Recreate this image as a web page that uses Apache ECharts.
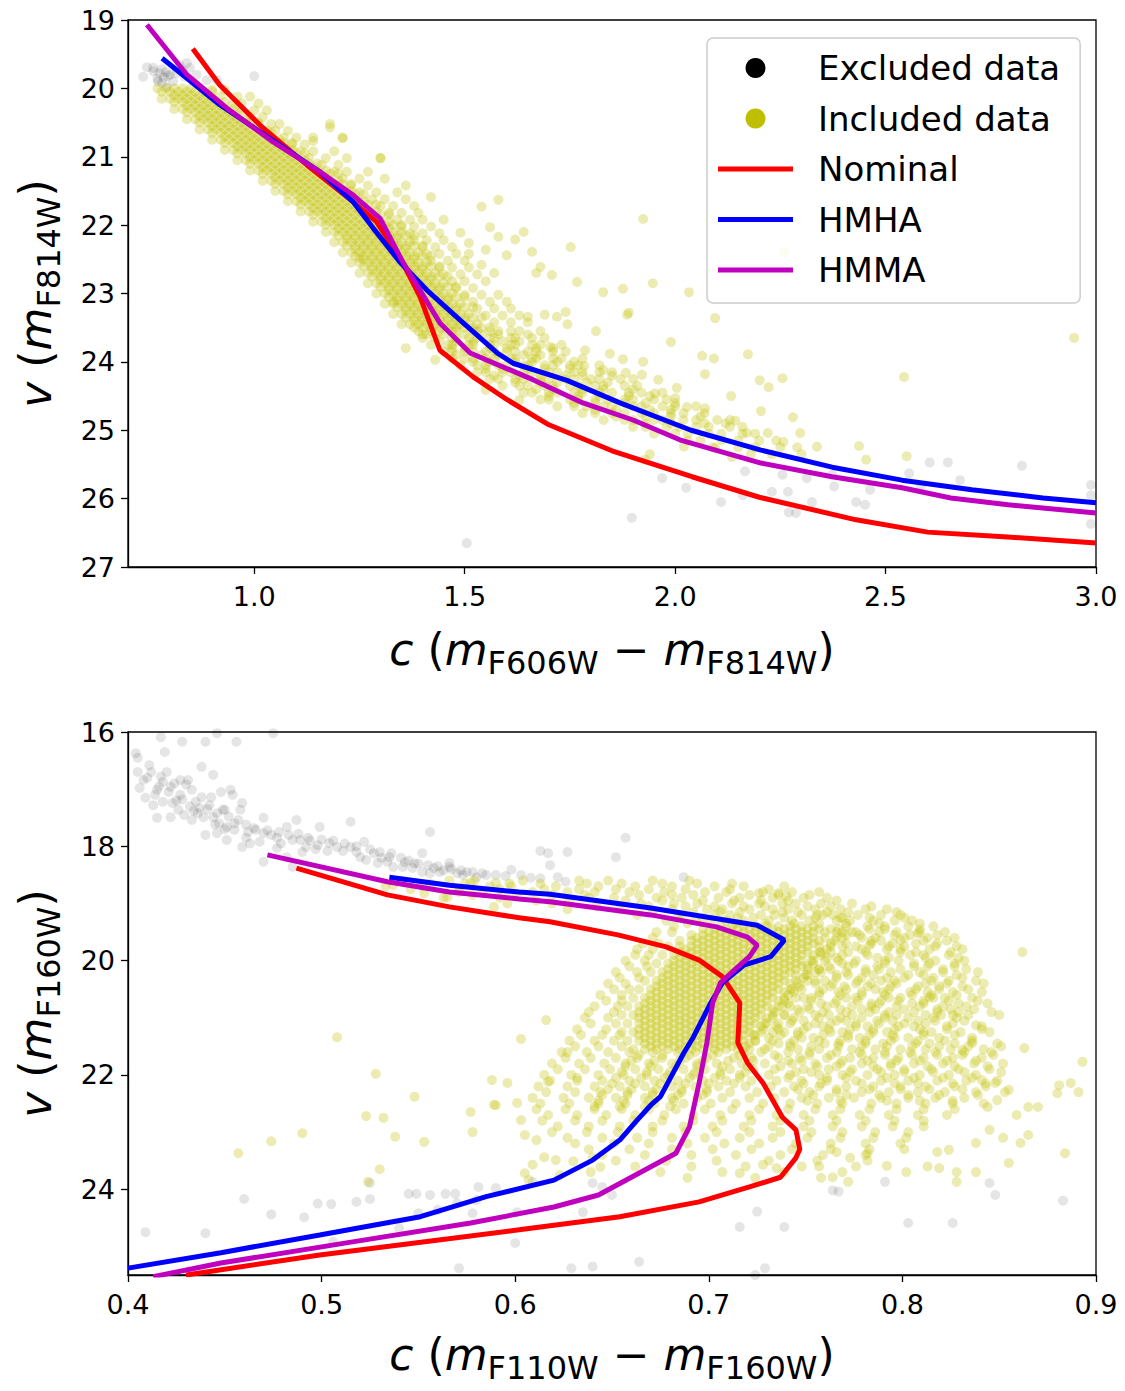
<!DOCTYPE html>
<html><head><meta charset="utf-8">
<script src="https://cdn.jsdelivr.net/npm/echarts@6/dist/echarts.min.js"></script>
<style>html,body{margin:0;padding:0;background:#fff}#c{width:1125px;height:1391px}</style>
</head><body><div id="c"></div>
<script>
// ---------- tick labels ----------
const topXTicks = [1.0, 1.5, 2.0, 2.5, 3.0];
const topYTicks = [19, 20, 21, 22, 23, 24, 25, 26, 27];
const botXTicks = [0.4, 0.5, 0.6, 0.7, 0.8, 0.9];
const botYTicks = [16, 18, 20, 22, 24];

// ---------- model curves [c, v] ----------
const topNominal = [[0.854,19.42],[0.918,19.95],[1.014,20.54],[1.125,21.12],[1.235,21.66],[1.29,21.95],[1.346,22.47],[1.394,23.05],[1.441,23.83],[1.52,24.22],[1.60,24.55],[1.70,24.92],[1.85,25.30],[2.04,25.68],[2.20,25.98],[2.43,26.31],[2.60,26.49],[2.79,26.56],[3.0,26.65]];
const topHMHA = [[0.781,19.56],[0.918,20.24],[1.037,20.73],[1.156,21.22],[1.235,21.66],[1.282,22.04],[1.346,22.54],[1.41,22.95],[1.489,23.39],[1.577,23.87],[1.615,24.02],[1.743,24.27],[1.869,24.60],[2.038,25.0],[2.204,25.29],[2.373,25.54],[2.539,25.73],[2.705,25.87],[2.874,25.99],[3.0,26.06]];
const topHMMA = [[0.745,19.07],[0.84,19.80],[0.935,20.29],[1.044,20.78],[1.156,21.22],[1.235,21.56],[1.299,21.90],[1.353,22.54],[1.441,23.43],[1.513,23.87],[1.662,24.26],[1.781,24.60],[1.90,24.85],[2.011,25.14],[2.204,25.48],[2.373,25.68],[2.539,25.84],[2.655,25.99],[2.791,26.09],[3.0,26.21]];
const botNominal = [[0.487,18.38],[0.534,18.85],[0.566,19.06],[0.602,19.25],[0.618,19.32],[0.653,19.55],[0.678,19.76],[0.695,19.99],[0.707,20.28],[0.716,20.74],[0.715,21.44],[0.720,21.79],[0.728,22.14],[0.738,22.74],[0.745,22.96],[0.747,23.3],[0.745,23.45],[0.737,23.79],[0.721,23.96],[0.695,24.22],[0.654,24.48],[0.602,24.71],[0.499,25.15],[0.43,25.5]];
const botHMHA = [[0.535,18.54],[0.566,18.68],[0.602,18.80],[0.618,18.84],[0.670,19.08],[0.725,19.38],[0.739,19.64],[0.732,19.93],[0.718,20.08],[0.707,20.39],[0.701,20.74],[0.692,21.34],[0.687,21.62],[0.675,22.38],[0.670,22.53],[0.663,22.79],[0.654,23.14],[0.640,23.49],[0.620,23.84],[0.585,24.13],[0.551,24.48],[0.499,24.80],[0.448,25.11],[0.40,25.38]];
const botHMMA = [[0.472,18.15],[0.534,18.62],[0.566,18.80],[0.602,18.92],[0.618,18.97],[0.670,19.20],[0.704,19.41],[0.720,19.59],[0.725,19.73],[0.721,19.93],[0.715,20.11],[0.706,20.39],[0.702,20.74],[0.699,21.44],[0.695,22.14],[0.690,22.91],[0.683,23.37],[0.643,24.10],[0.620,24.31],[0.577,24.59],[0.516,24.92],[0.448,25.29],[0.413,25.53]];

// ---------- observed stars, top panel (rows: [v, c, c, ...]) ----------
const topCoreRows = [
[20.00,0.77,0.79,0.81,0.83,0.85],
[20.05,0.78,0.80,0.82,0.84,0.86,0.88,0.90],
[20.10,0.81,0.83,0.85,0.87,0.89],
[20.15,0.78,0.80,0.82,0.84,0.86,0.88,0.90],
[20.20,0.81,0.83,0.85,0.87,0.89,0.91,0.93],
[20.25,0.84,0.86,0.88,0.90,0.92],
[20.30,0.81,0.83,0.85,0.87,0.89,0.91,0.93,0.95],
[20.35,0.84,0.86,0.88,0.90,0.92,0.94,0.96],
[20.40,0.87,0.89,0.91,0.93,0.95],
[20.45,0.84,0.86,0.88,0.90,0.92,0.94,0.96,0.98],
[20.50,0.87,0.89,0.91,0.93,0.95,0.97,0.99,1.01],
[20.55,0.90,0.92,0.94,0.96,0.98],
[20.60,0.87,0.89,0.91,0.93,0.95,0.97,0.99,1.01],
[20.65,0.90,0.92,0.94,0.96,0.98,1.00,1.02,1.04],
[20.70,0.93,0.95,0.97,0.99,1.01,1.03],
[20.75,0.90,0.92,0.94,0.96,0.98,1.00,1.02,1.04,1.06],
[20.80,0.93,0.95,0.97,0.99,1.01,1.03,1.05,1.07,1.09],
[20.85,0.96,0.98,1.00,1.02,1.04,1.06],
[20.90,0.93,0.95,0.97,0.99,1.01,1.03,1.05,1.07,1.09],
[20.95,0.96,0.98,1.00,1.02,1.04,1.06,1.08,1.10,1.12],
[21.00,0.99,1.01,1.03,1.05,1.07,1.09],
[21.05,0.96,0.98,1.00,1.02,1.04,1.06,1.08,1.10,1.12],
[21.10,0.99,1.01,1.03,1.05,1.07,1.09,1.11,1.13,1.15],
[21.15,1.02,1.04,1.06,1.08,1.10,1.12,1.14],
[21.20,0.99,1.01,1.03,1.05,1.07,1.09,1.11,1.13,1.15,1.17],
[21.25,1.02,1.04,1.06,1.08,1.10,1.12,1.14,1.16,1.18,1.20],
[21.30,1.05,1.07,1.09,1.11,1.13,1.15,1.17],
[21.35,1.02,1.04,1.06,1.08,1.10,1.12,1.14,1.16,1.18,1.20],
[21.40,1.05,1.07,1.09,1.11,1.13,1.15,1.17,1.19,1.21,1.23],
[21.45,1.08,1.10,1.12,1.14,1.16,1.18,1.20],
[21.50,1.05,1.07,1.09,1.11,1.13,1.15,1.17,1.19,1.21,1.23],
[21.55,1.08,1.10,1.12,1.14,1.16,1.18,1.20,1.22,1.24,1.26],
[21.60,1.11,1.13,1.15,1.17,1.19,1.21,1.23],
[21.65,1.08,1.10,1.12,1.14,1.16,1.18,1.20,1.22,1.24,1.26],
[21.70,1.11,1.13,1.15,1.17,1.19,1.21,1.23,1.25,1.27,1.29],
[21.75,1.14,1.16,1.18,1.20,1.22,1.24,1.26],
[21.80,1.11,1.13,1.15,1.17,1.19,1.21,1.23,1.25,1.27,1.29],
[21.85,1.14,1.16,1.18,1.20,1.22,1.24,1.26,1.28,1.30,1.32],
[21.90,1.17,1.19,1.21,1.23,1.25,1.27,1.29],
[21.95,1.14,1.16,1.18,1.20,1.22,1.24,1.26,1.28,1.30,1.32],
[22.00,1.17,1.19,1.21,1.23,1.25,1.27,1.29,1.31,1.33,1.35],
[22.05,1.20,1.22,1.24,1.26,1.28,1.30,1.32],
[22.10,1.17,1.19,1.21,1.23,1.25,1.27,1.29,1.31,1.33,1.35],
[22.15,1.20,1.22,1.24,1.26,1.28,1.30,1.32,1.34,1.36,1.38],
[22.20,1.22,1.24,1.26,1.28,1.30,1.32,1.34],
[22.25,1.19,1.21,1.23,1.25,1.27,1.29,1.31,1.33,1.35,1.37],
[22.30,1.22,1.24,1.26,1.28,1.30,1.32,1.34,1.36,1.38,1.40],
[22.35,1.24,1.26,1.28,1.30,1.32,1.34,1.36],
[22.40,1.21,1.23,1.25,1.27,1.29,1.31,1.33,1.35,1.37,1.39],
[22.45,1.24,1.26,1.28,1.30,1.32,1.34,1.36,1.38,1.40,1.42],
[22.50,1.26,1.28,1.30,1.32,1.34,1.36,1.38],
[22.55,1.23,1.25,1.27,1.29,1.31,1.33,1.35,1.37,1.39,1.41],
[22.60,1.26,1.28,1.30,1.32,1.34,1.36,1.38,1.40,1.42,1.44],
[22.65,1.28,1.30,1.32,1.34,1.36,1.38,1.40],
[22.70,1.25,1.27,1.29,1.31,1.33,1.35,1.37,1.39,1.41,1.43],
[22.75,1.28,1.30,1.32,1.34,1.36,1.38,1.40,1.42,1.44,1.46],
[22.80,1.30,1.32,1.34,1.36,1.38,1.40,1.42],
[22.85,1.27,1.29,1.31,1.33,1.35,1.37,1.39,1.41,1.43,1.45],
[22.90,1.30,1.32,1.34,1.36,1.38,1.40,1.42,1.44,1.46,1.48],
[22.95,1.32,1.34,1.36,1.38,1.40,1.42,1.44],
[23.00,1.29,1.31,1.33,1.35,1.37,1.39,1.41,1.43,1.45,1.47],
[23.05,1.32,1.34,1.36,1.38,1.40,1.42,1.44,1.46,1.48,1.50],
[23.10,1.34,1.36,1.38,1.40,1.42,1.44,1.46],
[23.15,1.31,1.33,1.35,1.37,1.39,1.41,1.43,1.45,1.47,1.49],
[23.20,1.34,1.36,1.38,1.40,1.42,1.44,1.46,1.48,1.50,1.52],
[23.25,1.36,1.38,1.40,1.42,1.44,1.46,1.48],
[23.30,1.33,1.35,1.37,1.39,1.41,1.43,1.45,1.47,1.49,1.51],
[23.35,1.36,1.38,1.40,1.42,1.44,1.46,1.48,1.50,1.52,1.54],
[23.40,1.38,1.40,1.42,1.44,1.46,1.48,1.50],
[23.45,1.35,1.37,1.39,1.41,1.43,1.45,1.47,1.49,1.51,1.53],
[23.50,1.38,1.40,1.42,1.44,1.46,1.48,1.50,1.52,1.54,1.56]
];
const topRows = [
[20.02,0.90,0.93],[20.12,0.92,0.96,0.99],[20.22,0.95,0.97,1.01],[20.32,0.97,1.00,1.03],[20.42,0.99,1.02],
[20.52,1.01,1.04,1.06,1.18],[20.62,1.03,1.05,1.08],[20.72,1.07,1.10,1.14,1.21],[20.82,1.09,1.12],[20.92,1.11,1.14,1.19],
[21.02,1.13,1.17,1.22,1.30],[21.12,1.16,1.20],[21.22,1.19,1.22,1.27],[21.32,1.21,1.25,1.31],[21.42,1.23,1.27,1.36],
[21.52,1.25,1.29,1.34],[21.62,1.28,1.31,1.36],[21.72,1.30,1.33,1.38],[21.82,1.32,1.35,1.39],[21.92,1.34,1.37,1.40,1.45],
[22.02,1.35,1.38,1.42],[22.12,1.37,1.40,1.44],[22.22,1.38,1.41,1.45],[22.32,1.40,1.43,1.47],[22.42,1.41,1.44,1.48,1.51],
[22.52,1.42,1.46,1.50],[22.62,1.44,1.47,1.51],[22.72,1.45,1.49,1.53],[22.82,1.47,1.50,1.55],[22.92,1.48,1.52],
[23.02,1.50,1.54,1.58],[23.12,1.52,1.56,1.60],[23.22,1.53,1.57,1.61],[23.32,1.55,1.59,1.63],[23.42,1.57,1.61,1.65],
[23.55,1.39,1.42,1.44,1.47,1.48,1.52,1.53,1.56,1.58,1.61,1.63,1.68],
[23.60,1.41,1.45,1.50,1.54,1.58,1.65],
[23.65,1.40,1.43,1.47,1.48,1.51,1.53,1.56,1.57,1.61,1.62,1.66,1.69],
[23.70,1.44,1.48,1.52,1.59,1.63],
[23.75,1.42,1.46,1.47,1.51,1.52,1.56,1.57,1.61,1.62,1.66,1.68,1.73],
[23.80,1.47,1.50,1.56,1.60,1.67,1.71],
[23.85,1.45,1.47,1.50,1.52,1.55,1.57,1.60,1.62,1.65,1.67,1.71,1.74],
[23.90,1.48,1.54,1.58,1.64,1.68],
[23.95,1.47,1.50,1.52,1.55,1.57,1.61,1.62,1.66,1.67,1.71,1.73,1.78],
[24.00,1.52,1.56,1.62,1.66,1.72,1.76],
[24.05,1.49,1.53,1.55,1.58,1.60,1.64,1.65,1.69,1.71,1.75,1.77,1.82],
[24.10,1.55,1.59,1.65,1.69,1.75],
[24.15,1.53,1.55,1.59,1.61,1.64,1.66,1.70,1.72,1.76,1.78,1.82,1.85],
[24.20,1.57,1.63,1.68,1.74,1.78,1.85],
[24.25,1.56,1.58,1.62,1.64,1.68,1.70,1.74,1.76,1.80,1.82,1.87,1.90],
[24.30,1.62,1.68,1.72,1.79,1.84],
[24.35,1.59,1.63,1.65,1.69,1.71,1.75,1.77,1.81,1.83,1.88,1.91],
[24.40,1.67,1.71,1.78,1.83,1.90],
[24.45,1.64,1.66,1.70,1.72,1.76,1.78,1.82,1.85,1.89,1.92,1.97],
[24.50,1.70,1.77,1.82,1.89,1.94],
[24.55,1.68,1.70,1.75,1.77,1.81,1.84,1.88,1.90,1.95,1.98],
[24.60,1.76,1.81,1.88,1.93,2.00],
[24.65,1.72,1.76,1.79,1.83,1.85,1.90,1.92,1.97,2.00,2.05],
[24.70,1.81,1.86,1.94,1.99],
[24.75,1.78,1.81,1.85,1.88,1.92,1.95,1.99,2.02,2.07],
[24.80,1.86,1.93,1.99,2.06],
[24.85,1.83,1.88,1.90,1.95,1.97,2.02,2.05,2.10,2.13],
[24.90,1.93,1.99,2.07,2.12],
[24.95,1.90,1.93,1.98,2.01,2.05,2.08,2.13,2.16],
[25.05,1.95,2.00,2.03,2.08,2.11,2.16,2.19],
[25.15,2.03,2.06,2.11,2.15,2.20,2.24],
[25.25,2.09,2.15,2.19,2.25,2.29],
[25.35,2.18,2.23,2.30]
];
// scattered single stars [c, v]
const topSparse = [[1.30,21.02],[1.42,21.59],[1.58,21.63],[1.54,21.73],[1.56,22.03],[1.58,22.17],[1.49,22.11],[1.51,22.26],[1.62,22.21],[1.64,22.1],[1.55,22.36],[1.60,22.44],[1.66,22.39],[1.752,22.32],[1.924,21.91],[1.54,22.58],[1.57,22.7],[1.68,22.61],[1.67,22.7],[1.707,22.73],[1.767,22.83],[1.829,22.98],[1.876,22.93],[1.947,22.85],[2.033,22.98],[1.719,23.34],[1.886,23.31],[1.812,23.55],[2.095,23.36],[1.99,23.71],[2.948,23.65],[1.786,23.83],[1.845,23.88],[1.876,23.96],[1.924,24.0],[2.064,23.91],[2.092,23.95],[2.173,23.89],[2.071,24.18],[1.921,24.19],[1.883,24.16],[1.829,24.12],[1.784,24.06],[2.201,24.27],[2.222,24.37],[2.255,24.24],[2.544,24.22],[2.004,24.38],[1.952,24.46],[2.133,24.5],[2.204,24.72],[2.28,24.81],[2.297,25.04],[2.143,24.86],[2.028,24.66],[2.071,24.68],[2.17,25.04],[2.22,25.04],[2.257,25.17],[2.337,25.24],[2.437,25.23],[2.454,25.43],[2.55,25.38],[2.135,25.39],[2.095,25.26],[2.021,25.24],[1.94,25.35],[1.929,25.43],[2.26,22.4],[1.74,23.27],[1.744,23.45],[1.703,23.78],[1.69,23.31],[1.65,23.34],[1.36,23.8],[1.43,23.97],[1.25,22.48],[1.33,23.12],[1.40,23.6],[1.55,24.41],[1.63,24.56],[1.96,24.26],[2.0,24.53],[1.89,23.28],[1.18,20.57],[1.14,20.77],[1.21,20.73]];
const topExcluded = [[0.745,19.69],[0.736,19.83],[0.76,19.7],[0.771,19.9],[0.781,19.92],[0.792,19.98],[0.807,19.9],[0.823,19.66],[0.84,19.63],[0.847,19.7],[0.863,19.8],[0.887,19.88],[0.911,19.88],[0.835,19.83],[0.79,19.76],[0.80,19.8],[0.775,19.78],[0.785,19.84],[0.76,19.75],[0.78,19.72],[0.795,19.82],[0.815,19.78],[0.83,19.74],[0.77,19.86],[1.0,19.82],[2.605,25.47],[2.648,25.47],[2.824,25.52],[2.677,25.73],[2.556,25.63],[2.584,25.83],[2.463,25.87],[2.43,26.05],[2.451,26.09],[2.325,26.05],[2.313,25.70],[2.378,25.82],[2.373,25.65],[2.255,25.65],[2.268,25.9],[2.23,25.9],[2.27,26.2],[2.287,26.21],[2.166,25.6],[2.161,25.95],[2.109,26.05],[2.026,25.84],[1.969,25.7],[1.897,26.28],[2.988,25.8],[2.988,25.95],[2.988,26.37],[1.505,26.65]];

// ---------- observed stars, bottom panel ----------
const botCoreRows = [
[19.40,0.706,0.712,0.718,0.724,0.730,0.736,0.742,0.748,0.754],
[19.45,0.697,0.703,0.709,0.715,0.721,0.727,0.733,0.739,0.745,0.751,0.757,0.763],
[19.50,0.700,0.706,0.712,0.718,0.724,0.730,0.736,0.742,0.748,0.754,0.760,0.766],
[19.55,0.691,0.697,0.703,0.709,0.715,0.721,0.727,0.733,0.739,0.745,0.751],
[19.60,0.694,0.700,0.706,0.712,0.718,0.724,0.730,0.736,0.742,0.748,0.754,0.760,0.766],
[19.65,0.685,0.691,0.697,0.703,0.709,0.715,0.721,0.727,0.733,0.739,0.745,0.751,0.757],
[19.70,0.694,0.700,0.706,0.712,0.718,0.724,0.730,0.736,0.742,0.748,0.754],
[19.75,0.679,0.685,0.691,0.697,0.703,0.709,0.715,0.721,0.727,0.733,0.739,0.745,0.751,0.757,0.763],
[19.80,0.688,0.694,0.700,0.706,0.712,0.718,0.724,0.730,0.736,0.742,0.748],
[19.85,0.685,0.691,0.697,0.703,0.709,0.715,0.721,0.727,0.733,0.739,0.745,0.751,0.757,0.763],
[19.90,0.676,0.682,0.688,0.694,0.700,0.706,0.712,0.718,0.724,0.730,0.736,0.742,0.748,0.754],
[19.95,0.685,0.691,0.697,0.703,0.709,0.715,0.721,0.727,0.733,0.739,0.745],
[20.00,0.682,0.688,0.694,0.700,0.706,0.712,0.718,0.724,0.730,0.736,0.742,0.748,0.754,0.760],
[20.05,0.673,0.679,0.685,0.691,0.697,0.703,0.709,0.715,0.721,0.727,0.733,0.739,0.745],
[20.10,0.682,0.688,0.694,0.700,0.706,0.712,0.718,0.724,0.730,0.736,0.742,0.748],
[20.15,0.679,0.685,0.691,0.697,0.703,0.709,0.715,0.721,0.727,0.733,0.739,0.745,0.751,0.757],
[20.20,0.670,0.676,0.682,0.688,0.694,0.700,0.706,0.712,0.718,0.724,0.730,0.736,0.742],
[20.25,0.679,0.685,0.691,0.697,0.703,0.709,0.715,0.721,0.727,0.733,0.739,0.745,0.751],
[20.30,0.676,0.682,0.688,0.694,0.700,0.706,0.712,0.718,0.724,0.730,0.736],
[20.35,0.667,0.673,0.679,0.685,0.691,0.697,0.703,0.709,0.715,0.721,0.727,0.733,0.739,0.745,0.751],
[20.40,0.676,0.682,0.688,0.694,0.700,0.706,0.712,0.718,0.724,0.730,0.736,0.742],
[20.45,0.673,0.679,0.685,0.691,0.697,0.703,0.709,0.715,0.721,0.727,0.733],
[20.50,0.664,0.670,0.676,0.682,0.688,0.694,0.700,0.706,0.712,0.718,0.724,0.730,0.736,0.742,0.748],
[20.55,0.673,0.679,0.685,0.691,0.697,0.703,0.709,0.715,0.721,0.727,0.733,0.739],
[20.60,0.670,0.676,0.682,0.688,0.694,0.700,0.706,0.712,0.718,0.724,0.730],
[20.65,0.661,0.667,0.673,0.679,0.685,0.691,0.697,0.703,0.709,0.715,0.721,0.727,0.733,0.739,0.745],
[20.70,0.670,0.676,0.682,0.688,0.694,0.700,0.706,0.712,0.718,0.724,0.730,0.736],
[20.75,0.667,0.673,0.679,0.685,0.691,0.697,0.703,0.709,0.715,0.721,0.727],
[20.80,0.658,0.664,0.670,0.676,0.682,0.688,0.694,0.700,0.706,0.712,0.718,0.724,0.730,0.736,0.742],
[20.85,0.667,0.673,0.679,0.685,0.691,0.697,0.703,0.709,0.715,0.721,0.727,0.733],
[20.90,0.664,0.670,0.676,0.682,0.688,0.694,0.700,0.706,0.712,0.718,0.724],
[20.95,0.655,0.661,0.667,0.673,0.679,0.685,0.691,0.697,0.703,0.709,0.715,0.721,0.727,0.733,0.739],
[21.00,0.664,0.670,0.676,0.682,0.688,0.694,0.700,0.706,0.712,0.718,0.724,0.730],
[21.05,0.667,0.673,0.679,0.685,0.691,0.697,0.703,0.709,0.715,0.721],
[21.10,0.658,0.664,0.670,0.676,0.682,0.688,0.694,0.700,0.706,0.712,0.718,0.724,0.730,0.736],
[21.15,0.667,0.673,0.679,0.685,0.691,0.697,0.703,0.709,0.715,0.721,0.727],
[21.20,0.664,0.670,0.676,0.682,0.688,0.694,0.700,0.706,0.712,0.718],
[21.25,0.655,0.661,0.667,0.673,0.679,0.685,0.691,0.697,0.703,0.709,0.715,0.721,0.727,0.733],
[21.30,0.664,0.670,0.676,0.682,0.688,0.694,0.700,0.706,0.712,0.718,0.724],
[21.35,0.667,0.673,0.679,0.685,0.691,0.697,0.703,0.709,0.715],
[21.40,0.658,0.664,0.670,0.676,0.682,0.688,0.694,0.700,0.706,0.712,0.718,0.724],
[21.45,0.667,0.673,0.679,0.685,0.691,0.697,0.703,0.709,0.715,0.721],
[21.50,0.670,0.676,0.682,0.688,0.694,0.700,0.706,0.712],
[21.55,0.661,0.667,0.673,0.679,0.685,0.691,0.697,0.703,0.709,0.715,0.721],
[21.65,0.664,0.676,0.690,0.702,0.716],
[21.75,0.660,0.672,0.685,0.697,0.710,0.723],
[21.85,0.657,0.670,0.683,0.694,0.707,0.720],
[21.95,0.655,0.668,0.680,0.693,0.706,0.719],
[22.05,0.652,0.665,0.677,0.690,0.703,0.716],
[22.15,0.650,0.662,0.675,0.688,0.700,0.713],
[22.25,0.648,0.660,0.673,0.686,0.699],
[22.35,0.645,0.658,0.671,0.684,0.697],
[22.45,0.643,0.656,0.669,0.682],
[22.55,0.641,0.654,0.667,0.680]
];
const botRows = [
[18.60,0.541,0.566,0.579,0.604,0.633,0.648,0.671,0.690],
[18.65,0.556,0.574,0.597,0.613,0.637,0.655,0.676,0.694,0.712],
[18.70,0.533,0.552,0.587,0.598,0.621,0.643,0.662,0.681,0.703,0.718,0.739],
[18.75,0.546,0.571,0.592,0.615,0.633,0.652,0.669,0.688,0.711,0.731],
[18.80,0.571,0.583,0.609,0.627,0.641,0.659,0.677,0.698,0.709,0.728,0.743,0.757],
[18.85,0.578,0.601,0.619,0.636,0.664,0.681,0.692,0.721,0.736,0.752],
[18.90,0.563,0.592,0.638,0.651,0.673,0.686,0.705,0.716,0.733,0.749,0.761],
[18.95,0.611,0.628,0.657,0.676,0.697,0.713,0.727,0.741,0.766],
[19.00,0.596,0.619,0.665,0.682,0.694,0.712,0.726,0.738,0.745,0.758,0.774],
[19.05,0.642,0.669,0.688,0.703,0.718,0.729,0.751,0.763,0.784],
[19.10,0.627,0.654,0.681,0.699,0.707,0.721,0.733,0.741,0.755,0.768,0.781,0.792],
[19.15,0.671,0.692,0.706,0.716,0.738,0.746,0.761,0.772,0.797],
[19.20,0.663,0.686,0.703,0.711,0.727,0.734,0.748,0.759,0.764,0.777,0.789,0.799],
[19.25,0.684,0.697,0.715,0.723,0.739,0.755,0.768,0.783,0.801],
[19.30,0.678,0.693,0.709,0.718,0.731,0.743,0.752,0.766,0.773,0.785,0.796,0.805],
[19.35,0.689,0.701,0.714,0.729,0.744,0.757,0.771,0.788,0.809],
[19.40,0.682,0.771,0.782,0.791,0.803,0.816],
[19.45,0.767,0.783,0.791,0.809],
[19.50,0.673,0.681,0.769,0.776,0.788,0.797,0.809,0.822],
[19.55,0.771,0.778,0.796,0.804,0.818],
[19.60,0.671,0.769,0.779,0.786,0.801,0.813,0.827],
[19.65,0.765,0.784,0.789,0.811,0.823],
[19.70,0.666,0.674,0.763,0.771,0.784,0.795,0.807,0.818],
[19.75,0.769,0.776,0.793,0.801,0.817,0.828],
[19.80,0.663,0.671,0.761,0.779,0.792,0.799,0.814,0.831],
[19.85,0.758,0.772,0.781,0.799,0.807,0.825],
[19.90,0.662,0.669,0.758,0.769,0.782,0.804,0.811,0.824],
[19.95,0.761,0.766,0.787,0.793,0.812,0.829],
[20.00,0.657,0.667,0.753,0.767,0.776,0.791,0.798,0.817,0.832],
[20.05,0.754,0.769,0.775,0.791,0.806,0.814,0.827],
[20.10,0.659,0.668,0.751,0.762,0.772,0.787,0.806,0.813,0.827],
[20.15,0.757,0.763,0.781,0.788,0.799,0.821,0.833],
[20.20,0.652,0.663,0.755,0.758,0.771,0.781,0.794,0.809,0.821,0.839],
[20.25,0.750,0.766,0.772,0.785,0.803,0.811,0.828],
[20.30,0.654,0.664,0.749,0.766,0.779,0.792,0.801,0.816,0.831],
[20.35,0.755,0.760,0.777,0.789,0.796,0.815,0.824,0.838],
[20.40,0.648,0.657,0.746,0.755,0.764,0.776,0.784,0.797,0.812,0.823,0.842],
[20.45,0.747,0.763,0.770,0.782,0.794,0.808,0.819,0.831],
[20.50,0.651,0.659,0.743,0.759,0.771,0.786,0.793,0.807,0.819,0.834],
[20.55,0.744,0.757,0.767,0.779,0.790,0.804,0.813,0.826,0.841],
[20.60,0.644,0.655,0.741,0.757,0.768,0.779,0.791,0.805,0.815,0.828],
[20.65,0.749,0.753,0.771,0.776,0.793,0.799,0.816,0.822,0.836],
[20.70,0.647,0.655,0.739,0.753,0.766,0.777,0.789,0.798,0.811,0.824,0.839],
[20.75,0.741,0.758,0.765,0.784,0.788,0.805,0.811,0.829,0.844],
[20.80,0.641,0.653,0.738,0.751,0.761,0.774,0.784,0.797,0.809,0.821,0.833],
[20.85,0.746,0.752,0.768,0.779,0.786,0.801,0.818,0.825,0.837],
[20.90,0.638,0.651,0.734,0.747,0.759,0.771,0.783,0.793,0.806,0.818,0.829,0.846],
[20.95,0.739,0.755,0.762,0.774,0.791,0.797,0.812,0.820,0.834,0.850],
[21.00,0.636,0.648,0.733,0.744,0.757,0.768,0.779,0.791,0.803,0.816,0.828],
[21.05,0.743,0.749,0.766,0.771,0.787,0.795,0.808,0.817,0.832],
[21.10,0.639,0.652,0.729,0.742,0.755,0.763,0.776,0.788,0.801,0.812,0.826],
[21.15,0.735,0.751,0.759,0.776,0.782,0.798,0.806,0.823,0.841],
[21.20,0.632,0.647,0.728,0.736,0.749,0.762,0.773,0.785,0.796,0.809,0.823,0.841],
[21.25,0.739,0.746,0.763,0.769,0.785,0.792,0.811,0.815,0.830,0.845],
[21.30,0.634,0.645,0.654,0.723,0.737,0.746,0.759,0.772,0.783,0.795,0.811,0.827],
[21.35,0.731,0.748,0.754,0.772,0.778,0.796,0.803,0.819,0.836],
[21.40,0.628,0.641,0.651,0.724,0.733,0.744,0.757,0.768,0.781,0.794,0.808,0.822,0.836],
[21.45,0.736,0.742,0.760,0.767,0.781,0.790,0.807,0.814,0.827,0.849],
[21.50,0.631,0.643,0.655,0.719,0.731,0.742,0.753,0.767,0.779,0.792,0.805,0.819,0.834,0.851],
[21.55,0.729,0.746,0.757,0.774,0.786,0.799,0.812,0.825,0.842],
[21.60,0.624,0.637,0.648,0.659,0.671,0.684,0.693,0.705,0.718,0.727,0.741,0.752,0.766,0.778,0.791,0.804,0.817,0.832,0.846],
[21.65,0.734,0.752,0.763,0.779,0.791,0.805,0.818,0.831,0.847],
[21.70,0.626,0.639,0.652,0.663,0.676,0.688,0.699,0.713,0.722,0.736,0.747,0.761,0.773,0.785,0.798,0.811,0.826,0.841],
[21.75,0.741,0.748,0.769,0.782,0.797,0.809,0.823,0.838],
[21.80,0.619,0.633,0.646,0.657,0.669,0.681,0.694,0.704,0.717,0.729,0.743,0.755,0.768,0.779,0.794,0.806,0.821,0.837,0.852],
[21.85,0.737,0.756,0.766,0.785,0.794,0.813,0.827,0.844],
[21.90,0.622,0.636,0.649,0.662,0.674,0.687,0.698,0.711,0.723,0.734,0.749,0.762,0.774,0.787,0.801,0.815,0.829,0.845],
[21.95,0.745,0.753,0.773,0.789,0.801,0.816,0.832,0.851],
[22.00,0.615,0.629,0.643,0.656,0.668,0.679,0.692,0.706,0.716,0.731,0.742,0.757,0.769,0.782,0.796,0.809,0.824,0.838],
[22.05,0.741,0.761,0.771,0.792,0.806,0.821,0.836],
[22.10,0.618,0.632,0.645,0.659,0.672,0.684,0.697,0.709,0.722,0.735,0.748,0.761,0.776,0.789,0.803,0.818,0.833,0.849],
[22.15,0.749,0.758,0.779,0.796,0.808,0.826,0.843],
[22.20,0.612,0.627,0.641,0.654,0.667,0.681,0.693,0.705,0.719,0.732,0.744,0.757,0.771,0.785,0.799,0.812,0.827,0.843],
[22.25,0.746,0.766,0.783,0.799,0.814,0.831],
[22.30,0.616,0.631,0.644,0.658,0.671,0.686,0.699,0.711,0.725,0.739,0.752,0.766,0.779,0.793,0.808,0.822,0.838,0.853],
[22.35,0.754,0.771,0.788,0.803,0.819,0.839],
[22.40,0.609,0.625,0.638,0.652,0.667,0.681,0.694,0.707,0.721,0.734,0.748,0.762,0.775,0.789,0.803,0.817,0.832],
[22.45,0.751,0.768,0.792,0.809,0.826],
[22.50,0.613,0.628,0.643,0.657,0.672,0.687,0.701,0.714,0.728,0.742,0.756,0.769,0.784,0.797,0.812,0.826,0.842],
[22.60,0.611,0.626,0.641,0.655,0.669,0.683,0.698,0.712,0.726,0.741,0.755,0.768,0.783,0.797,0.811,0.827],
[22.70,0.617,0.632,0.647,0.662,0.677,0.692,0.706,0.721,0.735,0.749,0.764,0.778,0.793,0.808,0.823],
[22.80,0.614,0.631,0.645,0.661,0.676,0.692,0.707,0.722,0.737,0.752,0.766,0.781,0.796,0.811],
[22.90,0.622,0.638,0.654,0.671,0.687,0.702,0.718,0.733,0.749,0.764,0.779,0.795,0.811],
[23.00,0.619,0.637,0.653,0.671,0.688,0.704,0.721,0.737,0.753,0.769,0.786,0.803],
[23.10,0.627,0.645,0.663,0.681,0.698,0.716,0.733,0.751,0.768,0.785,0.802],
[23.20,0.631,0.651,0.669,0.689,0.708,0.726,0.745,0.763,0.781,0.799],
[23.30,0.638,0.659,0.681,0.702,0.722,0.743,0.763,0.783,0.801],
[23.40,0.645,0.667,0.691,0.714,0.737,0.759,0.781],
[23.50,0.652,0.678,0.704,0.731,0.756,0.782],
[23.60,0.662,0.691,0.719,0.748,0.776],
[23.70,0.675,0.707,0.739,0.769],
[23.80,0.689,0.724,0.758]
];
const botSparse = [[0.862,19.85],[0.863,21.53],[0.893,21.77],[0.881,22.18],[0.887,22.14],[0.891,22.3],[0.880,22.32],[0.884,23.37],[0.865,22.56],[0.870,22.56],[0.859,22.7],[0.865,23.05],[0.861,23.19],[0.855,23.54],[0.855,22.26],[0.848,22.14],[0.849,22.44],[0.844,22.56],[0.852,23.1],[0.845,22.96],[0.838,23.19],[0.838,23.7],[0.828,23.87],[0.841,22.09],[0.836,21.44],[0.831,21.56],[0.826,20.95],[0.838,21.13],[0.814,20.64],[0.808,19.52],[0.799,19.64],[0.769,19.25],[0.756,19.2],[0.736,18.82],[0.740,18.87],[0.726,18.82],[0.774,19.5],[0.783,19.73],[0.772,23.87],[0.764,23.79],[0.757,23.6],[0.735,23.63],[0.728,23.57],[0.716,23.72],[0.828,23.7],[0.813,23.6],[0.802,23.7],[0.792,23.59],[0.782,23.37],[0.773,23.45],[0.766,23.35],[0.818,23.35],[0.824,23.31],[0.819,23.63],[0.616,21.04],[0.603,21.37],[0.627,21.6],[0.632,22.05],[0.617,22.12],[0.588,22.09],[0.596,22.14],[0.601,22.49],[0.590,22.53],[0.577,22.65],[0.603,22.79],[0.578,23.0],[0.605,23.05],[0.611,23.14],[0.508,21.34],[0.528,21.98],[0.548,22.38],[0.523,22.72],[0.532,22.75],[0.538,23.08],[0.553,23.17],[0.457,23.37],[0.474,23.16],[0.490,23.02],[0.530,23.65],[0.524,23.87],[0.589,22.52],[0.605,23.72],[0.609,23.57],[0.607,23.84],[0.621,23.49],[0.615,23.44],[0.630,23.51],[0.623,23.75],[0.639,23.7],[0.644,23.61],[0.640,23.44],[0.577,18.64],[0.590,18.64],[0.553,18.82],[0.565,18.89],[0.537,18.68],[0.589,19.06]];
const botExcluded = [[0.404,16.37],[0.417,16.09],[0.428,16.17],[0.440,16.17],[0.446,16.02],[0.456,16.17],[0.475,16.02],[0.419,16.35],[0.438,16.61],[0.444,16.75],[0.405,16.7],[0.408,16.84],[0.412,16.7],[0.420,16.7],[0.418,16.87],[0.415,17.01],[0.422,16.96],[0.427,16.84],[0.431,16.84],[0.433,17.01],[0.409,17.15],[0.413,17.28],[0.418,17.22],[0.423,17.24],[0.427,17.1],[0.438,17.14],[0.443,17.14],[0.448,17.05],[0.453,17.01],[0.454,17.1],[0.415,17.5],[0.422,17.49],[0.429,17.45],[0.433,17.54],[0.437,17.33],[0.439,17.49],[0.444,17.49],[0.449,17.36],[0.450,17.36],[0.459,17.24],[0.458,17.36],[0.457,17.54],[0.440,17.8],[0.446,17.77],[0.451,17.66],[0.451,17.89],[0.455,17.71],[0.459,18.01],[0.462,17.75],[0.466,17.71],[0.470,17.5],[0.470,17.77],[0.474,17.8],[0.477,17.85],[0.482,17.66],[0.487,17.54],[0.470,18.27],[0.477,18.03],[0.482,18.19],[0.485,17.89],[0.489,17.89],[0.492,18.01],[0.498,17.98],[0.499,17.66],[0.504,17.94],[0.508,18.01],[0.515,17.57],[0.515,18.01],[0.520,18.19],[0.523,18.24],[0.527,18.12],[0.522,17.92],[0.529,18.29],[0.535,18.19],[0.537,18.36],[0.542,18.36],[0.547,18.38],[0.552,18.45],[0.556,18.47],[0.561,18.45],[0.566,18.36],[0.570,18.47],[0.575,18.45],[0.580,18.54],[0.552,18.12],[0.556,17.75],[0.566,18.29],[0.585,18.5],[0.598,18.41],[0.485,18.36],[0.432,17.3],[0.436,17.42],[0.447,17.6],[0.461,17.85],[0.468,17.92],[0.494,17.9],[0.497,18.05],[0.511,18.08],[0.518,18.1],[0.531,18.2],[0.548,18.3],[0.558,18.38],[0.563,18.42],[0.573,18.5],[0.425,17.2],[0.416,16.95],[0.41,16.8],[0.441,17.35],[0.405,16.45],[0.411,16.58],[0.417,16.78],[0.424,16.9],[0.43,16.92],[0.421,17.05],[0.428,17.18],[0.435,17.22],[0.442,17.28],[0.446,17.42],[0.452,17.48],[0.455,17.6],[0.461,17.62],[0.465,17.68],[0.472,17.72],[0.478,17.75],[0.483,17.8],[0.488,17.78],[0.493,17.85],[0.5,17.88],[0.506,17.9],[0.512,17.95],[0.518,18.0],[0.525,18.05],[0.53,18.1],[0.536,18.12],[0.541,18.2],[0.545,18.25],[0.55,18.3],[0.555,18.33],[0.56,18.35],[0.567,18.4],[0.572,18.42],[0.578,18.45],[0.583,18.47],[0.59,18.5],[0.595,18.52],[0.603,18.5],[0.608,18.55],[0.543,18.28],[0.534,18.27],[0.503,18.08],[0.49,18.1],[0.479,17.95],[0.463,17.95],[0.45,17.7],[0.445,17.62],[0.434,17.38],[0.426,17.36],[0.414,17.1],[0.406,16.98],[0.617,18.12],[0.618,18.33],[0.627,18.1],[0.622,18.54],[0.626,18.62],[0.652,18.19],[0.687,18.54],[0.613,18.56],[0.657,17.85],[0.613,18.08],[0.791,23.87],[0.845,23.89],[0.848,24.1],[0.883,24.2],[0.764,24.02],[0.767,24.04],[0.725,24.39],[0.716,24.66],[0.739,24.66],[0.803,24.59],[0.826,24.59],[0.409,24.75],[0.440,24.77],[0.460,24.17],[0.474,24.44],[0.491,24.49],[0.498,24.25],[0.505,24.26],[0.518,24.22],[0.525,24.17],[0.525,23.89],[0.545,24.08],[0.549,24.08],[0.556,24.1],[0.564,24.08],[0.569,24.08],[0.570,24.24],[0.581,23.96],[0.590,23.98],[0.580,24.19],[0.578,24.42],[0.560,24.36],[0.550,24.42],[0.540,24.68],[0.506,24.92],[0.600,24.94],[0.571,25.38],[0.601,24.4],[0.640,23.89],[0.635,24.4],[0.640,25.35],[0.650,24.1],[0.645,23.96],[0.609,23.87],[0.629,25.38],[0.664,25.27],[0.724,25.5],[0.729,25.38]];

// ---------- build ----------
function fromRows(rows){const out=[];rows.forEach(r=>{for(let i=1;i<r.length;i++)out.push([r[i],r[0]]);});return out;}
const topIncluded = fromRows(topRows).concat(fromRows(topCoreRows), topSparse);
const botIncluded = fromRows(botRows).concat(fromRows(botCoreRows), botSparse);

const FONT = 'DejaVu Sans';
const rich = {
  i:{fontFamily:FONT,fontStyle:'italic',fontSize:44,color:'#000'},
  n:{fontFamily:FONT,fontSize:44,color:'#000'},
  s:{fontFamily:FONT,fontSize:32,color:'#000',padding:[27,0,0,0]}
};
function mkX(gi,min,max,ticks,name,gap){
  return {type:'value',gridIndex:gi,min:min,max:max,position:'bottom',
    axisLine:{show:true,onZero:false,lineStyle:{color:'#000',width:1.3}},
    axisTick:{show:true,length:7,lineStyle:{color:'#000',width:1.3},customValues:ticks},
    axisLabel:{show:true,customValues:ticks,formatter:v=>Number(v).toFixed(1),color:'#000',fontSize:27,fontFamily:FONT,margin:16,showMinLabel:true,showMaxLabel:true},
    splitLine:{show:false},
    name:name,nameLocation:'middle',nameGap:gap,nameTextStyle:{fontFamily:FONT,fontSize:44,color:'#000',rich:rich}};
}
function mkY(gi,min,max,ticks,name,gap){
  return {type:'value',gridIndex:gi,min:min,max:max,inverse:true,position:'left',
    axisLine:{show:true,onZero:false,lineStyle:{color:'#000',width:1.3}},
    axisTick:{show:true,length:7,lineStyle:{color:'#000',width:1.3},customValues:ticks},
    axisLabel:{show:true,customValues:ticks,formatter:v=>String(Math.round(v)),color:'#000',fontSize:27,fontFamily:FONT,margin:13,showMinLabel:true,showMaxLabel:true},
    splitLine:{show:false},
    name:name,nameLocation:'middle',nameRotate:90,nameGap:gap,nameTextStyle:{fontFamily:FONT,fontSize:44,color:'#000',rich:rich}};
}
function scatter(name,gi,data,color,op){
  return {type:'scatter',name:name,xAxisIndex:gi,yAxisIndex:gi,data:data,symbol:'circle',symbolSize:10,
    itemStyle:{color:color,opacity:op},large:false,progressive:0,silent:true,z:2};
}
function line(name,gi,data,color){
  return {type:'line',name:name,xAxisIndex:gi,yAxisIndex:gi,data:data,symbol:'none',showSymbol:false,
    lineStyle:{color:color,width:5},itemStyle:{color:color},silent:true,z:3,clip:true};
}
const BAR = 'path://M0,0L75,0L75,5L0,5Z';

const chart = echarts.init(document.getElementById('c'), null, {renderer:'svg', width:1125, height:1391});
chart.setOption({
  animation:false,
  backgroundColor:'#ffffff',
  textStyle:{fontFamily:FONT},
  grid:[
    {left:128,top:20,width:968,height:547,show:true,borderColor:'#000',borderWidth:1.3,backgroundColor:'transparent'},
    {left:128,top:732,width:968,height:543,show:true,borderColor:'#000',borderWidth:1.3,backgroundColor:'transparent'}
  ],
  xAxis:[
    mkX(0,0.7,3.0,topXTicks,'{i|c}{n| (}{i|m}{s|F606W}{n| − }{i|m}{s|F814W}{n|)}',53),
    mkX(1,0.4,0.9,botXTicks,'{i|c}{n| (}{i|m}{s|F110W}{n| − }{i|m}{s|F160W}{n|)}',50)
  ],
  yAxis:[
    mkY(0,19,27,topYTicks,'{i|v}{n| (}{i|m}{s|F814W}{n|)}',63),
    mkY(1,16,25.5,botYTicks,'{i|v}{n| (}{i|m}{s|F160W}{n|)}',63)
  ],
  legend:{
    orient:'vertical',left:707,top:38,itemWidth:75,itemHeight:20,itemGap:16.5,
    padding:[13,20,16,11],
    backgroundColor:'rgba(255,255,255,0.8)',borderColor:'#cccccc',borderWidth:1.5,borderRadius:6,
    selectedMode:false,
    textStyle:{fontSize:34,fontFamily:FONT,color:'#000',padding:[0,0,0,20]},
    data:[
      {name:'Excluded data',icon:'circle',itemStyle:{color:'#000000',opacity:1}},
      {name:'Included data',icon:'circle',itemStyle:{color:'#bfbf00',opacity:1}},
      {name:'Nominal',icon:BAR,itemStyle:{color:'#ff0000',opacity:1}},
      {name:'HMHA',icon:BAR,itemStyle:{color:'#0000ff',opacity:1}},
      {name:'HMMA',icon:BAR,itemStyle:{color:'#bf00bf',opacity:1}}
    ]
  },
  series:[
    scatter('Excluded data',0,topExcluded,'#000000',0.1),
    scatter('Included data',0,topIncluded,'#bfbf00',0.3),
    line('Nominal',0,topNominal,'#ff0000'),
    line('HMHA',0,topHMHA,'#0000ff'),
    line('HMMA',0,topHMMA,'#bf00bf'),
    scatter('Excluded data',1,botExcluded,'#000000',0.1),
    scatter('Included data',1,botIncluded,'#bfbf00',0.3),
    line('Nominal',1,botNominal,'#ff0000'),
    line('HMHA',1,botHMHA,'#0000ff'),
    line('HMMA',1,botHMMA,'#bf00bf')
  ]
});
</script></body></html>
